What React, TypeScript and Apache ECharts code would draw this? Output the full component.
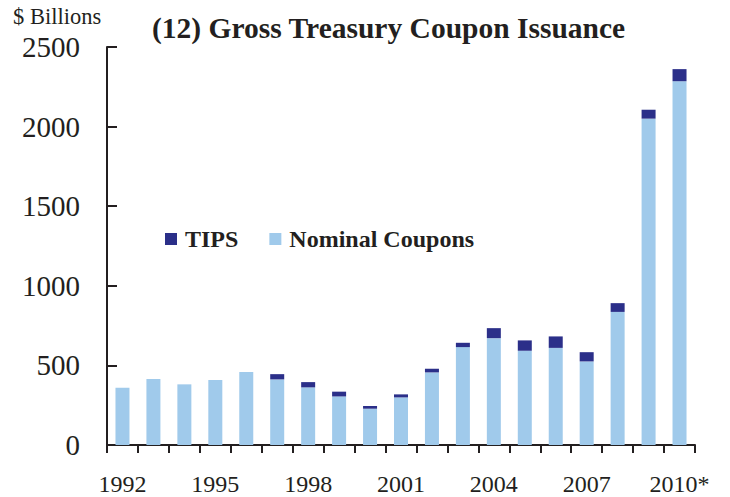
import React, { useEffect, useRef } from "react";
import * as echarts from "echarts";

const years = ["1992","1993","1994","1995","1996","1997","1998","1999","2000","2001","2002","2003","2004","2005","2006","2007","2008","2009","2010*"];
const nominal = [360, 414, 381, 408, 458, 412, 362, 305, 228, 299, 456, 615, 671, 592, 610, 525, 836, 2050, 2285];
const tips = [0, 0, 0, 0, 0, 33, 33, 30, 17, 19, 23, 27, 63, 65, 72, 58, 55, 56, 76];
const yTicks = [0, 500, 1000, 1500, 2000, 2500];

const INK = "#231F20";
const SERIF = "'Liberation Serif', 'Times New Roman', serif";

export default function App() {
  const ref = useRef<HTMLDivElement>(null);
  useEffect(() => {
    if (!ref.current) return;
    const chart = echarts.init(ref.current, null, { renderer: "svg" });
    chart.setOption({
      animation: false,
      backgroundColor: "#ffffff",
      title: {
        text: "(12) Gross Treasury Coupon Issuance",
        left: 147,
        top: 8,
        textStyle: { fontFamily: SERIF, fontWeight: "bold", fontSize: 29.5, color: INK },
      },
      graphic: [
        {
          type: "text",
          left: 13,
          top: 5,
          style: { text: "$ Billions", font: `22.5px ${SERIF}`, fill: INK },
        },
      ],
      legend: {
        data: ["TIPS", "Nominal Coupons"],
        left: 165,
        top: 227,
        padding: 0,
        itemWidth: 12,
        itemHeight: 12,
        itemGap: 31,
        icon: "rect",
        textStyle: { fontFamily: SERIF, fontWeight: "bold", fontSize: 24, color: INK, padding: [0, 0, 0, 3] },
      },
      grid: { left: 107, right: 35, top: 47, bottom: 52, containLabel: false },
      xAxis: {
        type: "category",
        data: years,
        boundaryGap: true,
        axisLine: { lineStyle: { color: INK, width: 2 } },
        axisTick: { show: true, inside: false, length: 8, alignWithLabel: false, interval: 0, lineStyle: { color: INK, width: 2 } },
        axisLabel: {
          interval: 2,
          margin: 27,
          fontFamily: SERIF,
          fontSize: 24,
          color: INK,
        },
        splitLine: { show: false },
      },
      yAxis: {
        type: "value",
        min: 0,
        max: 2500,
        interval: 500,
        axisLine: { show: true, lineStyle: { color: INK, width: 2 } },
        axisTick: { show: true, inside: true, length: 10, lineStyle: { color: INK, width: 2 } },
        axisLabel: {
          margin: 27,
          fontFamily: SERIF,
          fontSize: 29,
          color: INK,
          formatter: (v: number) => (yTicks.includes(v) ? String(v) : ""),
        },
        splitLine: { show: false },
      },
      series: [
        {
          name: "Nominal Coupons",
          type: "bar",
          stack: "total",
          data: nominal,
          barWidth: 14,
          itemStyle: { color: "#A0CAEB" },
        },
        {
          name: "TIPS",
          type: "bar",
          stack: "total",
          data: tips,
          barWidth: 14,
          itemStyle: { color: "#2B2F89" },
        },
      ],
    });
    return () => chart.dispose();
  }, []);
  return <div ref={ref} style={{ width: 730, height: 497, position: "absolute", left: 0, top: 0 }} />;
}
